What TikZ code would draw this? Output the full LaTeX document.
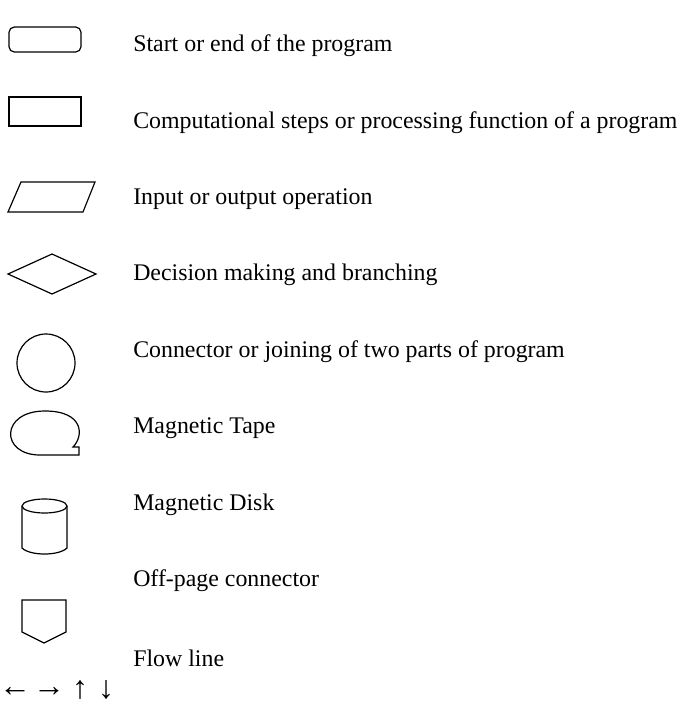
\documentclass[tikz,border=0pt]{standalone}
\usepackage{fontspec}
\setmainfont{Liberation Serif}
\begin{document}
\begin{tikzpicture}[x=0.75pt,y=-0.75pt,
  sym/.style={draw=black,line width=0.9pt},
  lbl/.style={anchor=west,inner sep=0pt,font=\fontsize{17.9}{20}\selectfont},
  arr/.style={inner sep=0pt,font=\fontsize{24}{26}\selectfont}]
\useasboundingbox (0,0) rectangle (690,708);
\draw[sym,rounded corners=4pt] (9,27) rectangle (81,52);
\draw[sym] (9,97) rectangle (81,126);
\draw[sym] (8,212) -- (21,182) -- (95,182) -- (83,212) -- cycle;
\draw[sym] (8,274) -- (52,254) -- (96,274) -- (52,294) -- cycle;
\draw[sym] (46,363) circle[radius=29];
\draw[sym] (79,455) -- (79,447) -- (73,447)
  .. controls (84,436) and (84,411) .. (45,411)
  .. controls (0,411) and (0,455) .. (40,455) -- cycle;
\draw[sym] (22,506) -- (22,548) .. controls (30,556) and (59,556) .. (67,548) -- (67,506);
\draw[sym] (44.5,506) ellipse[x radius=22.5,y radius=7];
\draw[sym] (22,600) -- (66,600) -- (66,632) -- (44,643) -- (22,632) -- cycle;
\node[lbl] (t1) at (133,46) {Start or end of the program};
\node[lbl] (t2) at (133,123) {Computational steps or processing function of a program};
\node[lbl] (t3) at (133,199) {Input or output operation};
\node[lbl] (t4) at (133,275) {Decision making and branching};
\node[lbl] (t5) at (133,352) {Connector or joining of two parts of program};
\node[lbl] (t6) at (133,428) {Magnetic Tape};
\node[lbl] (t7) at (133,505) {Magnetic Disk};
\node[lbl] (t8) at (133,581) {Off-page connector};
\node[lbl] (t9) at (133,658) {Flow line};
\node[arr] (a1) at (15,692) {←};
\node[arr] (a2) at (49,692) {→};
\node[arr] (a3) at (80,690) {↑};
\node[arr] (a4) at (106,690) {↓};
\end{tikzpicture}
\end{document}
